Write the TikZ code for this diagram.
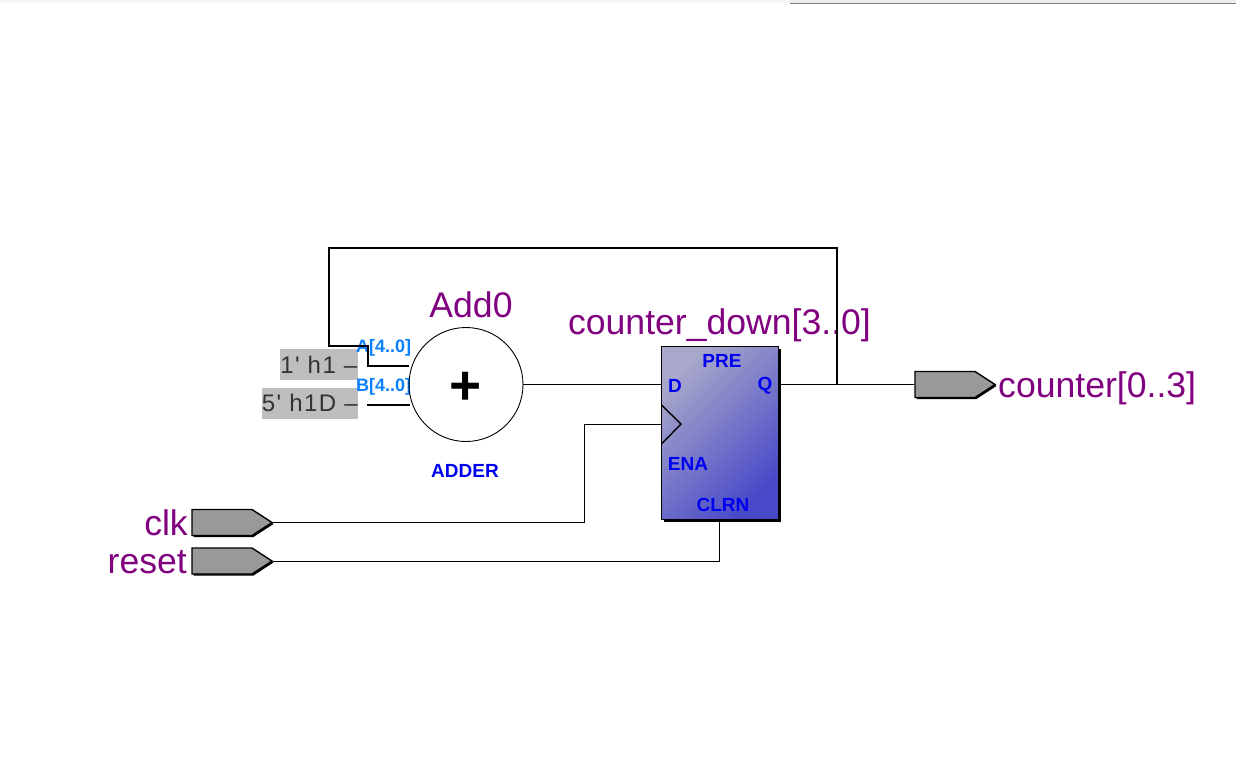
\documentclass[tikz,border=0pt]{standalone}
\usepackage{fontspec}
\setmainfont{Liberation Sans}
\newfontfamily\constfont[LetterSpace=6]{Liberation Sans}
\usepackage{xcolor}
\usetikzlibrary{positioning,calc}
\usetikzlibrary{shapes.symbols,shadows}
\definecolor{netpurple}{HTML}{800080}
\definecolor{portblue}{HTML}{0A80FF}
\definecolor{pinblue}{HTML}{0000F0}
\definecolor{constgray}{HTML}{BEBEBE}
\definecolor{pingray}{HTML}{999999}
\definecolor{regtop}{HTML}{A8A8CA}
\definecolor{regmid}{HTML}{7C7CC4}
\definecolor{regbot}{HTML}{4848C8}
\tikzstyle{wire} = [line width=1.4pt,black]
\tikzstyle{iopin} = [signal, signal to=east, signal pointer angle=66, minimum width=80pt, minimum height=26pt, inner sep=0pt, draw=black, line width=1.4pt, fill=pingray, general shadow={shadow xshift=1.5pt,shadow yshift=-1.5pt,fill=black,opacity=1}]
\tikzstyle{netlabel} = [text=netpurple, font=\fontsize{35.6}{40}\selectfont, inner sep=0pt]
\tikzstyle{pinlabel} = [text=pinblue, font=\fontsize{19}{21}\selectfont\bfseries, inner sep=0pt]
\tikzstyle{portlabel} = [text=portblue, font=\fontsize{18}{20}\selectfont\bfseries, inner sep=0pt]
\tikzstyle{constbox} = [fill=constgray, text=black!80, font=\fontsize{24}{26}\constfont, anchor=east, inner sep=0pt, minimum height=31pt]

\begin{document}
\begin{tikzpicture}[x=1pt,y=-1pt]
\useasboundingbox (0,0) rectangle (1236,763);
% window edge at the top
\fill[black!3] (0,0) rectangle (790,3);
\fill[black!7] (790,0) rectangle (1236,3);
\draw[gray,line width=1pt] (790,3.5) -- (1236,3.5);

\node[constbox,minimum width=78pt] (one) at (358,364.5) {1' h1 –};
\node[constbox,minimum width=95pt] (step) at (358,403) {5' h1D –};
\node[portlabel,anchor=west] (aport) at (356,347.5) {A[4..0]};
\node[portlabel,anchor=west] (bport) at (356,386.5) {B[4..0]};

\node[circle,draw=black,line width=0.9pt,minimum size=114pt,inner sep=0pt] (adder) at (466,384.5) {};
\node[font=\fontsize{55}{55}\selectfont\bfseries,inner sep=0pt] (plus) at (466,388) {+};
\node[netlabel] (addname) at (471,305) {Add0};
\node[pinlabel] (addtype) at (465,471) {ADDER};

\node[draw=black,line width=1.6pt,minimum width=117pt,minimum height=173pt,inner sep=0pt,
  top color=regtop,middle color=regmid,bottom color=regbot,shading angle=45,
  general shadow={shadow xshift=2.5pt,shadow yshift=-2.5pt,fill=black,opacity=1}] (reg) at (720,433) {};
\node[netlabel] (regname) at (719.5,325) {counter\_down[3..0]};
\node[pinlabel] (pre) at (722,361) {PRE};
\node[pinlabel] (dpin) at (675,386) {D};
\node[pinlabel] (qpin) at (765,386) {Q};
\node[pinlabel] (ena) at (688,464) {ENA};
\node[pinlabel] (clrn) at (723,505) {CLRN};
\draw[wire] (661.5,405) -- (681,424) -- (661.5,444);

\node[iopin] (clkpin) at (222,522.5) {};
\node[iopin] (resetpin) at (222,561) {};
\node[iopin] (countpin) at (945,384.5) {};
\node[netlabel,anchor=east] (clkname) at (188,523) {clk};
\node[netlabel,anchor=east] (resetname) at (187,562) {reset};
\node[netlabel,anchor=west] (countname) at (998,388) {counter[0..3]};

\coordinate (fbq) at (837,384.5);
\coordinate (fbtop) at (329,248);
\coordinate (fbin) at (329,346);
\coordinate (astep) at (368,346);
\coordinate (ain) at (409,366);
\coordinate (bout) at (367,405);
\coordinate (bin) at (410,405);
\coordinate (clkturn) at (584,424);
\coordinate (clkin) at (661,424);
\coordinate (clrnin) at (719,520);

\draw[wire] (adder.east) -- (adder.east -| reg.west);
\draw[wire] (adder.east -| reg.east) -- (countpin.west);
\draw[wire] (fbq) |- (fbtop) -- (fbin) -- (astep) |- (ain);
\draw[wire] (bout) -- (bin);
\draw[wire,line width=1pt] (clkpin.east) -| (clkturn) -- (clkin);
\draw[wire,line width=1pt] (resetpin.east) -| (clrnin);
\end{tikzpicture}
\end{document}
